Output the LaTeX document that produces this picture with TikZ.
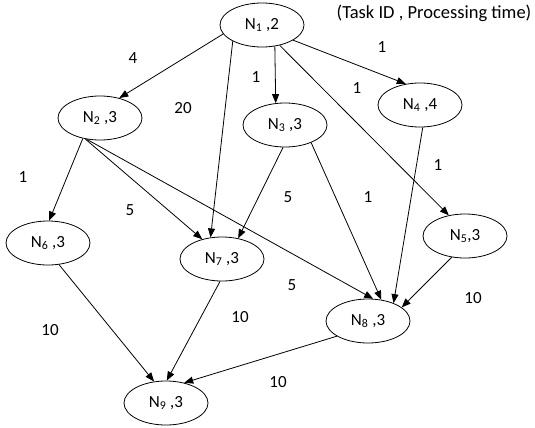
\documentclass[tikz,border=0pt]{standalone}
\usepackage{fontspec}
\setmainfont{Carlito}
\usetikzlibrary{arrows.meta,shapes.geometric}
\tikzset{
  task/.style={draw, ellipse, line width=0.8pt, minimum width=84pt, minimum height=44pt, inner sep=0pt, font=\fontsize{17}{20}\selectfont},
  wlabel/.style={inner sep=0pt, font=\fontsize{17}{20}\selectfont},
  conn/.style={line width=0.8pt, -{Triangle[length=9pt,width=7pt]}}
}
\begin{document}
\begin{tikzpicture}[x=1pt,y=-1pt]
\useasboundingbox (0,0) rectangle (535,428);
\node[task] (n1) at (262,25) {N\textsubscript{1} ,2};
\node[task] (n2) at (100,118) {N\textsubscript{2} ,3};
\node[task] (n3) at (285,125) {N\textsubscript{3} ,3};
\node[task] (n4) at (420,105) {N\textsubscript{4} ,4};
\node[task] (n5) at (465,236) {N\textsubscript{5},3};
\node[task] (n6) at (48,243) {N\textsubscript{6} ,3};
\node[task] (n7) at (222,259) {N\textsubscript{7} ,3};
\node[task] (n8) at (368,321) {N\textsubscript{8} ,3};
\node[task] (n9) at (166,403) {N\textsubscript{9} ,3};
\node[wlabel, font=\fontsize{18.5}{21}\selectfont] (title) at (434,13) {(Task ID , Processing time)};
% connectors
\draw[conn] (n1.193) -- (n2.46);
\draw[conn] (n1.209) -- (n7.118);
\draw[conn] (n1.301) -- (n3.113);
\draw[conn] (n1.334) -- (n4.124);
\draw[conn] (n1.311) -- (n5.128);
\draw[conn] (n2.230) -- (n6.87);
\draw[conn] (n2.235) -- (n7.135);
\draw[conn] (n2.238) -- (n8.77);
\draw[conn] (n3.265) -- (n7.52);
\draw[conn] (n3.326) -- (n8.58);
\draw[conn] (n4.277) -- (n8.35);
\draw[conn] (n5.238) -- (n8.22);
\draw[conn] (n6.297) -- (n9.119);
\draw[conn] (n7.265) -- (n9.88);
\draw[conn] (n8.206) -- (n9.48);
% weights
\node[wlabel] (w12) at (133,58) {4};
\node[wlabel] (w17) at (183,108) {20};
\node[wlabel] (w13) at (256,77) {1};
\node[wlabel] (w15) at (357,88) {1};
\node[wlabel] (w14) at (382,47) {1};
\node[wlabel] (w26) at (23,177) {1};
\node[wlabel] (w27) at (130,210) {5};
\node[wlabel] (w37) at (288,197) {5};
\node[wlabel] (w38) at (368,197) {1};
\node[wlabel] (w48) at (438,165) {1};
\node[wlabel] (w28) at (292,285) {5};
\node[wlabel] (w58) at (473,298) {10};
\node[wlabel] (w69) at (50,330) {10};
\node[wlabel] (w79) at (240,317) {10};
\node[wlabel] (w89) at (278,382) {10};
\end{tikzpicture}
\end{document}
